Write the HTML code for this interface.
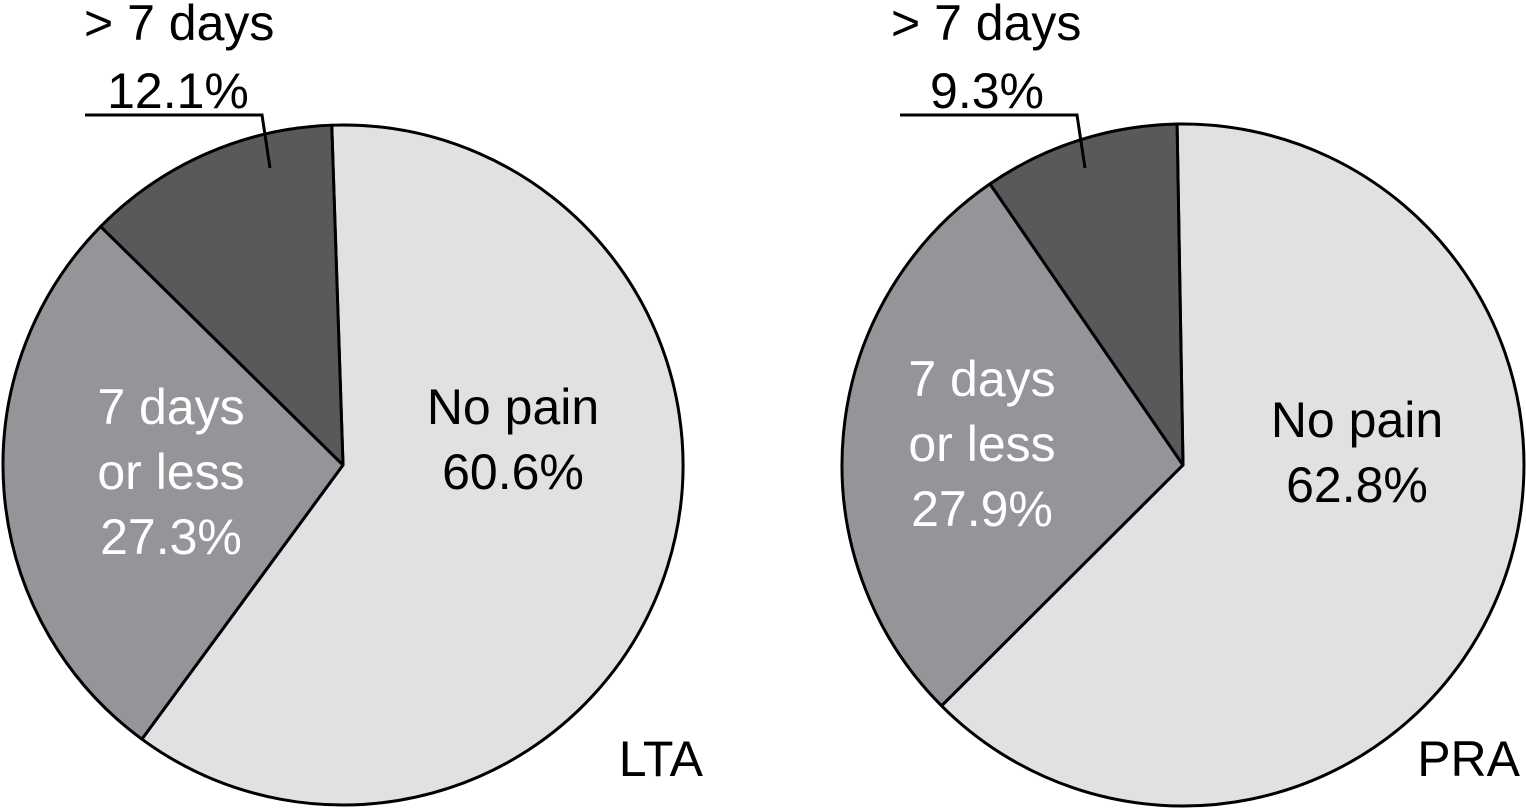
<!DOCTYPE html>
<html><head><meta charset="utf-8"><style>
html,body{margin:0;padding:0;background:#fff;width:1526px;height:809px;overflow:hidden}
text{font-family:"Liberation Sans",sans-serif;font-size:50px}
</style></head><body>
<svg id="chart" width="1526" height="809" viewBox="0 0 1526 809"></svg>
<script>
const groups = ["LTA", "PRA"];
const categories = ["No pain", "7 days or less", "> 7 days"];
const ltaValues = [60.6, 27.3, 12.1];
const praValues = [62.8, 27.9, 9.3];
const colors = ["#e0e1e3", "#939598", "#58595b"];
const NS = "http://www.w3.org/2000/svg";
const svg = document.getElementById("chart");
function mk(tag, attrs, parent){const e=document.createElementNS(NS,tag);for(const k in attrs)e.setAttribute(k,attrs[k]);(parent||svg).appendChild(e);return e;}
function pt(cx,cy,r,deg){const a=deg*Math.PI/180;return [cx+r*Math.sin(a),cy-r*Math.cos(a)];}
function drawPie(cx,cy,r,startDeg,values,name,cfg){
  const g=mk("g",{});
  
  
  const total=values.reduce((a,b)=>a+b,0);
  let ang=startDeg;
  values.forEach((v,i)=>{
    const sweep=v/total*360;
    const p0=pt(cx,cy,r,ang), p1=pt(cx,cy,r,ang+sweep);
    const path=mk("path",{d:`M${cx},${cy} L${p0[0]},${p0[1]} A${r},${r} 0 ${sweep>180?1:0} 1 ${p1[0]},${p1[1]} Z`,fill:colors[i],stroke:"#000","stroke-width":3,"stroke-linejoin":"round"},g);
    
    
    ang+=sweep;
  });
  const fmt=v=>v.toFixed(1)+"%";
  const t0=mk("text",{x:cfg.np[0],y:cfg.np[1],"text-anchor":"middle",fill:"#000"},g);
  
  
  [categories[0],fmt(values[0])].forEach((s,j)=>{const ts=mk("tspan",{x:cfg.np[0],dy:j?65:0},t0);ts.textContent=s;});
  const t1=mk("text",{x:cfg.mid[0],y:cfg.mid[1],"text-anchor":"middle",fill:"#fff"},g);
  
  
  ["7 days","or less",fmt(values[1])].forEach((s,j)=>{const ts=mk("tspan",{x:cfg.mid[0],dy:j?65:0},t1);ts.textContent=s;});
  const t2=mk("text",{x:cfg.out[0],y:cfg.out[1],fill:"#000"},g);
  
  
  t2.textContent=categories[2];
  const t3=mk("text",{x:cfg.pct[0],y:cfg.pct[1],"text-anchor":"middle",fill:"#000"},g);
  
  
  t3.textContent=fmt(values[2]);
  const ld=mk("polyline",{points:`${cfg.lead[0]},115 ${cfg.lead[1]},115 ${cfg.tip[0]},${cfg.tip[1]}`,fill:"none",stroke:"#000","stroke-width":3},g);
  
  
  const gl=mk("text",{x:cfg.gl[0],y:cfg.gl[1],fill:"#000","text-anchor":"end"},g);
  
  
  gl.textContent=name;
}
drawPie(343,465,340,-1.9,ltaValues,groups[0],{np:[513,424],mid:[171,424],out:[84,40],pct:[178,108],lead:[85,262],tip:[270,168],gl:[703,776]});
drawPie(1183,465,341,-1,praValues,groups[1],{np:[1357,437],mid:[982,396],out:[891,40],pct:[987,108],lead:[900,1077],tip:[1085,168],gl:[1520,776]});
</script>
</body></html>
